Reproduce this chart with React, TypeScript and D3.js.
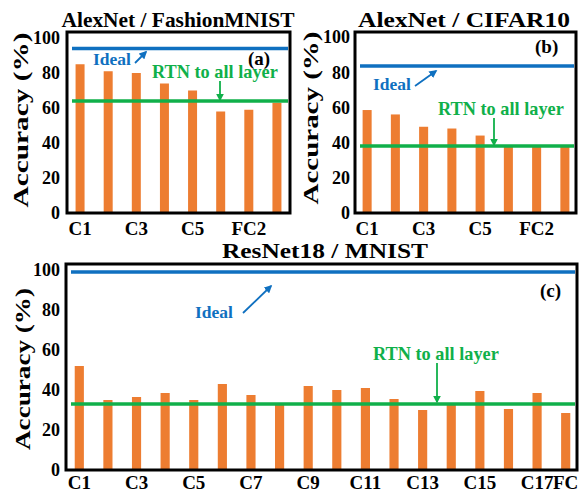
import React from "react";
import * as d3 from "d3";

// ---------- data ----------
const alexCats = ["C1", "C2", "C3", "C4", "C5", "FC1", "FC2", "FC3"];
const fashionVals = [85, 81, 80, 74, 70, 58, 59, 63];
const cifarVals = [58.5, 56, 49, 48, 44, 38, 38, 38];
const alexTickLabels = ["C1", "C3", "C5", "FC2"];

const resnetCats = [
  "C1", "C2", "C3", "C4", "C5", "C6", "C7", "C8", "C9", "C10",
  "C11", "C12", "C13", "C14", "C15", "C16", "C17", "FC",
];
const resnetVals = [52, 35, 36.5, 38.5, 35, 43, 37.5, 32.5, 42, 40, 41, 35.5, 30, 33, 39.5, 30.5, 38.5, 28.5];
const resnetTickLabels = ["C1", "C3", "C5", "C7", "C9", "C11", "C13", "C15", "C17", "FC"];

const yTicks = [0, 20, 40, 60, 80, 100];
const idealVals = [94, 83.5, 99];
const rtnVals = [64, 38, 33];
const titles = ["AlexNet / FashionMNIST", "AlexNet / CIFAR10", "ResNet18 / MNIST"];
const panelTags = ["(a)", "(b)", "(c)"];

// ---------- styles ----------
const ORANGE = "#ED7D31";
const BLUE = "#0F70C0";
const GREEN = "#10B04A";
const FONT = "'Liberation Serif', 'Times New Roman', serif";

const layouts = [
  {
    cats: alexCats, vals: fashionVals, ticks: alexTickLabels,
    frame: { l: 67, r: 290, t: 32, b: 213 }, yTop: 38, band: [66, 291], tickEnd: 60,
    title: { x: 178, y: 27, len: 233 },
    ylab: { x: 28, y: 120, len: 175 },
    xlabY: 235,
    tag: { x: 248, y: 65 },
    idealText: { x: 93, y: 65 }, idealArrow: [135, 63, 146, 52],
    rtnText: { x: 152, y: 78 }, rtnArrow: [220, 81, 220, 100],
  },
  {
    cats: alexCats, vals: cifarVals, ticks: alexTickLabels,
    frame: { l: 355, r: 576, t: 32, b: 213 }, yTop: 37, band: [353, 579], tickEnd: 350,
    title: { x: 464, y: 27, len: 212 },
    ylab: { x: 318, y: 118, len: 173 },
    xlabY: 235,
    tag: { x: 535, y: 53 },
    idealText: { x: 373, y: 90 }, idealArrow: [415, 86, 436, 71],
    rtnText: { x: 438, y: 115 }, rtnArrow: [494, 118, 494, 145],
  },
  {
    cats: resnetCats, vals: resnetVals, ticks: resnetTickLabels,
    frame: { l: 66, r: 577, t: 264, b: 470 }, yTop: 270, band: [65, 580], tickEnd: 60,
    title: { x: 325, y: 258, len: 206 },
    ylab: { x: 30, y: 369, len: 162 },
    xlabY: 489,
    tag: { x: 540, y: 297 },
    idealText: { x: 195, y: 318 }, idealArrow: [243, 313, 271, 286],
    rtnText: { x: 373, y: 360 }, rtnArrow: [437, 363, 437, 402],
  },
];

function Arrow({ c, color, id }: { c: number[]; color: string; id: string }) {
  return (
    <line x1={c[0]} y1={c[1]} x2={c[2]} y2={c[3]} stroke={color} strokeWidth={1.8} markerEnd={`url(#${id})`} />
  );
}

function Panel({ i }: { i: number }) {
  const L = layouts[i];
  const f = L.frame;
  const x = d3.scaleBand<string>().domain(L.cats).range(L.band as [number, number]).paddingInner(0.68).paddingOuter(0.34);
  const y = d3.scaleLinear().domain([0, 100]).range([f.b, L.yTop]);
  const bw = x.bandwidth();
  return (
    <g>
      {/* bars */}
      {L.cats.map((c, k) => (
        <rect key={c} x={x(c)!} y={y(L.vals[k])} width={bw} height={y(0) - y(L.vals[k])} fill={ORANGE} />
      ))}
      {/* reference lines */}
      <line x1={f.l + 5} x2={f.r - 2} y1={y(idealVals[i])} y2={y(idealVals[i])} stroke={BLUE} strokeWidth={3.5} />
      <line x1={f.l + 5} x2={f.r - 2} y1={y(rtnVals[i])} y2={y(rtnVals[i])} stroke={GREEN} strokeWidth={3.5} />
      {/* frame */}
      <rect x={f.l} y={f.t} width={f.r - f.l} height={f.b - f.t} fill="none" stroke="#000" strokeWidth={3} />
      {/* y ticks */}
      {yTicks.map((t) => (
        <text key={t} x={L.tickEnd} y={y(t)} dy="0.36em" textAnchor="end" fontSize={18} fontWeight="bold" fontFamily={FONT}>
          {t}
        </text>
      ))}
      {/* x ticks */}
      {L.ticks.map((t) => (
        <text key={t} x={x(t)! + bw / 2} y={L.xlabY} textAnchor="middle" fontSize={19} fontWeight="bold" fontFamily={FONT}>
          {t}
        </text>
      ))}
      {/* title */}
      <text x={L.title.x} y={L.title.y} textAnchor="middle" fontSize={22} fontWeight="bold" fontFamily={FONT}
        textLength={L.title.len} lengthAdjust="spacingAndGlyphs">
        {titles[i]}
      </text>
      {/* y label */}
      <g transform={`translate(${L.ylab.x},${L.ylab.y}) rotate(-90)`}>
        <text x={0} y={0} textAnchor="middle" fontSize={22} fontWeight="bold" fontFamily={FONT}
          textLength={L.ylab.len} lengthAdjust="spacingAndGlyphs">
          Accuracy (%)
        </text>
      </g>
      {/* annotations */}
      <text x={L.tag.x} y={L.tag.y} fontSize={19} fontWeight="bold" fontFamily={FONT}>{panelTags[i]}</text>
      <text x={L.idealText.x} y={L.idealText.y} fontSize={17.5} fontWeight="bold" fontFamily={FONT} fill={BLUE}>Ideal</text>
      <Arrow c={L.idealArrow} color={BLUE} id="ahBlue" />
      <text x={L.rtnText.x} y={L.rtnText.y} fontSize={18.3} fontWeight="bold" fontFamily={FONT} fill={GREEN}>RTN to all layer</text>
      <Arrow c={L.rtnArrow} color={GREEN} id="ahGreen" />
    </g>
  );
}

export default function App() {
  return (
    <svg width={581} height={492} style={{ position: "absolute", left: 0, top: 0, background: "#fff" }}>
      <defs>
        <marker id="ahBlue" viewBox="0 0 10 10" refX="8" refY="5" markerWidth="8" markerHeight="8"
          markerUnits="userSpaceOnUse" orient="auto">
          <path d="M0,0 L10,5 L0,10 z" fill={BLUE} />
        </marker>
        <marker id="ahGreen" viewBox="0 0 10 10" refX="8" refY="5" markerWidth="8" markerHeight="8"
          markerUnits="userSpaceOnUse" orient="auto">
          <path d="M0,0 L10,5 L0,10 z" fill={GREEN} />
        </marker>
      </defs>
      <rect width={581} height={492} fill="#fff" />
      {layouts.map((_, i) => (
        <Panel key={i} i={i} />
      ))}
    </svg>
  );
}
